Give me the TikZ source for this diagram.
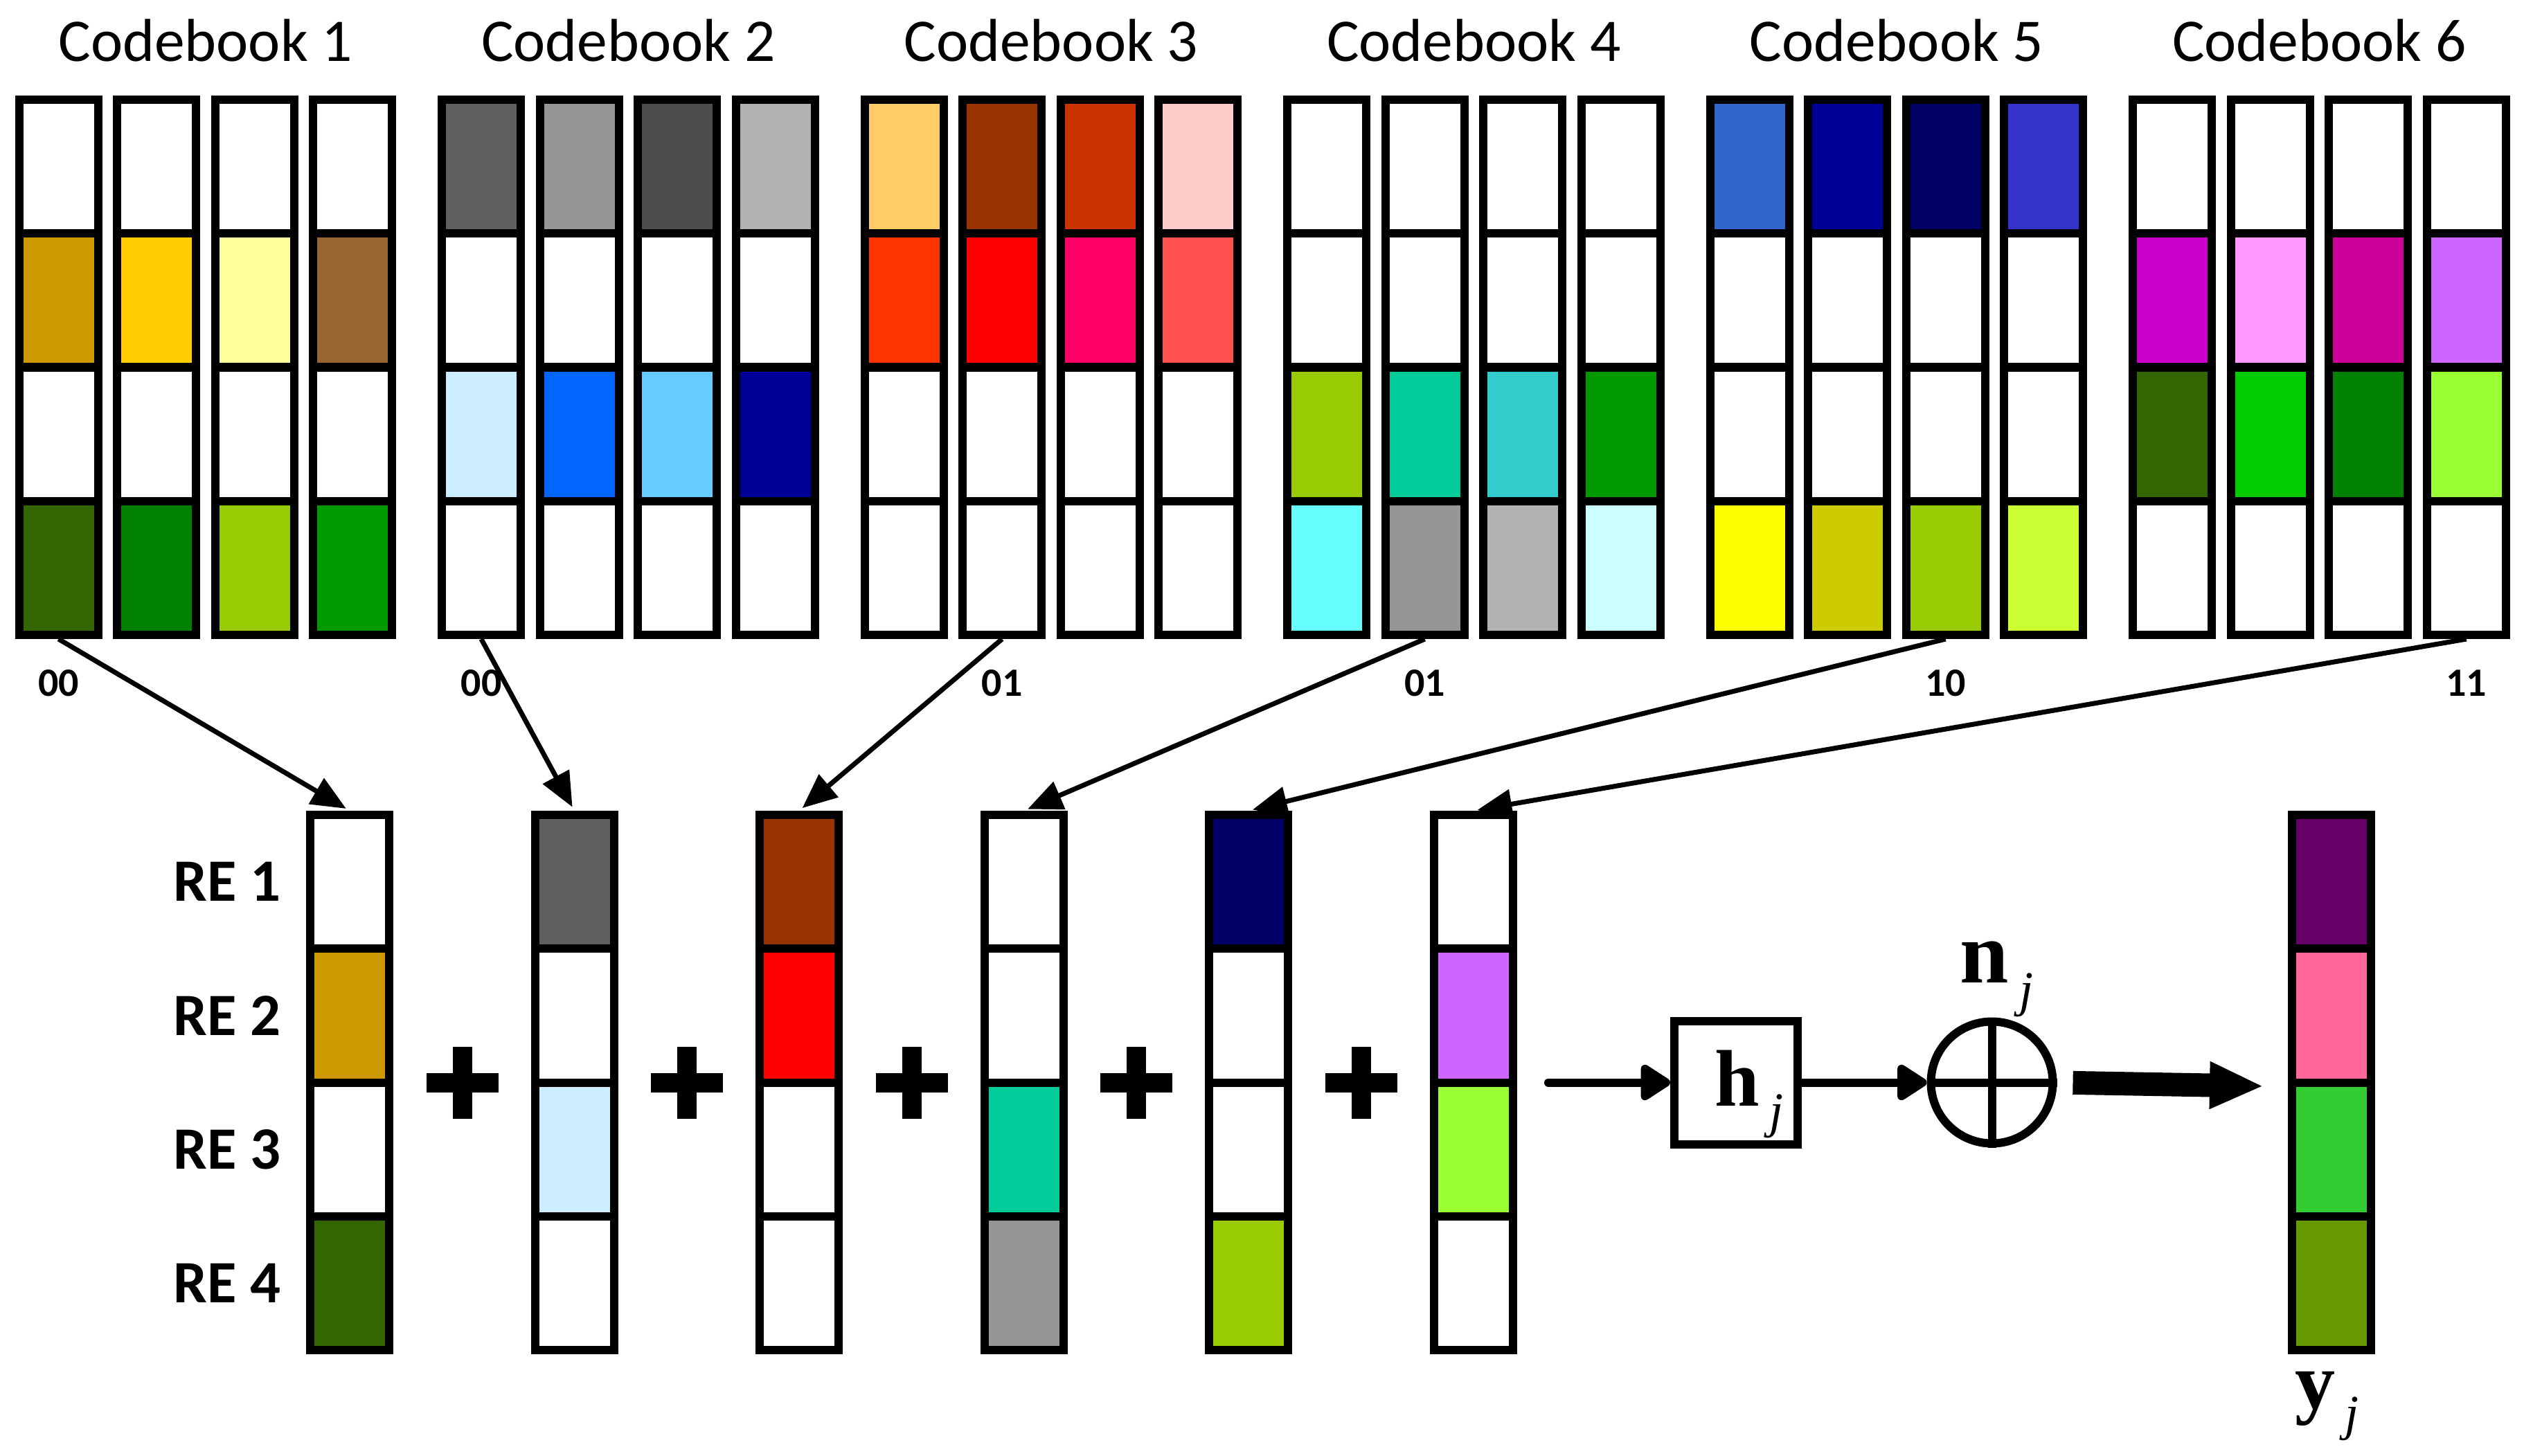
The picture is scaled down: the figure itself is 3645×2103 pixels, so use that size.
\documentclass[tikz,border=0pt]{standalone}
\usepackage{fontspec}
\setmainfont{Carlito}
\newfontfamily\timesfont{Liberation Serif}
\usetikzlibrary{arrows.meta,positioning,calc}

\newcommand{\vecsym}[2]{{\bfseries #1}\hspace{0.12em}\raisebox{-0.27em}{\fontsize{20.5pt}{22pt}\selectfont\itshape #2}}

% one column of four resource cells, #1 name, #2 x, #3 top y, #4 fills
\newcommand{\cellcolumn}[4]{%
  \foreach \fillc [count=\row] in {#4}{%
    \definecolor{cellfill}{HTML}{\fillc}%
    \node[cell, fill=cellfill] (#1-\row) at ({#2},{#3+(\row-0.5)*193.25}) {};
  }%
}
\newcommand{\codebook}[5]{%
  \pgfmathsetmacro{\bx}{84.5+610.5*(#1-1)}
  \cellcolumn{cb#1-1}{\bx}{144}{#2}
  \cellcolumn{cb#1-2}{\bx+141.6}{144}{#3}
  \cellcolumn{cb#1-3}{\bx+283.2}{144}{#4}
  \cellcolumn{cb#1-4}{\bx+424.8}{144}{#5}
  \node[cbtitle] (title#1) at ({\bx+212.4},89) {Codebook #1};
}

\tikzset{
  cell/.style={draw, line width=1.2mm, minimum width=11.4mm, minimum height=19.325mm, inner sep=0pt},
  cbtitle/.style={font=\fontsize{24.9pt}{30pt}\selectfont, anchor=base, inner sep=0pt},
  idx/.style={font=\bfseries\fontsize{16.5pt}{18pt}\selectfont, anchor=base, inner sep=0pt},
  relbl/.style={font=\bfseries\fontsize{24.7pt}{30pt}\selectfont, inner sep=0pt},
  sym/.style={font=\timesfont\fontsize{33pt}{36pt}\selectfont, inner sep=0pt},
  link/.style={line width=0.7mm, -{Triangle[length=5mm,width=4.2mm]}, shorten >=0.6mm},
  flow/.style={line width=1.2mm, line cap=round, -{Triangle[length=4.8mm,width=5.8mm,round]}},
  fat/.style={line width=3.4mm, -{Triangle[length=7.8mm,width=6.3mm]}}
}

\begin{document}
\begin{tikzpicture}[x=0.1mm, y=-0.1mm]
	\useasboundingbox (0,0) rectangle (3645,2103);

	\codebook{1}{FFFFFF,CC9900,FFFFFF,336600}{FFFFFF,FFCC00,FFFFFF,008000}{FFFFFF,FFFF99,FFFFFF,99CC00}{FFFFFF,996633,FFFFFF,009900}
	\codebook{2}{606060,FFFFFF,CCECFF,FFFFFF}{969696,FFFFFF,0066FF,FFFFFF}{4D4D4D,FFFFFF,66CCFF,FFFFFF}{B2B2B2,FFFFFF,000099,FFFFFF}
	\codebook{3}{FFCC66,FF3300,FFFFFF,FFFFFF}{993300,FF0000,FFFFFF,FFFFFF}{CC3300,FF0066,FFFFFF,FFFFFF}{FFCCCC,FF5050,FFFFFF,FFFFFF}
	\codebook{4}{FFFFFF,FFFFFF,99CC00,66FFFF}{FFFFFF,FFFFFF,00CC99,969696}{FFFFFF,FFFFFF,33CCCC,B2B2B2}{FFFFFF,FFFFFF,009900,CCFFFF}
	\codebook{5}{3366CC,FFFFFF,FFFFFF,FFFF00}{000099,FFFFFF,FFFFFF,CCCC00}{000066,FFFFFF,FFFFFF,99CC00}{3333CC,FFFFFF,FFFFFF,CCFF33}
	\codebook{6}{FFFFFF,CC00CC,336600,FFFFFF}{FFFFFF,FF99FF,00CC00,FFFFFF}{FFFFFF,CC0099,008000,FFFFFF}{FFFFFF,CC66FF,99FF33,FFFFFF}

	\cellcolumn{re1}{505}{1177}{FFFFFF,CC9900,FFFFFF,336600}
	\cellcolumn{re2}{829.5}{1177}{606060,FFFFFF,CCECFF,FFFFFF}
	\cellcolumn{re3}{1154}{1177}{993300,FF0000,FFFFFF,FFFFFF}
	\cellcolumn{re4}{1478.5}{1177}{FFFFFF,FFFFFF,00CC99,969696}
	\cellcolumn{re5}{1803}{1177}{000066,FFFFFF,FFFFFF,99CC00}
	\cellcolumn{re6}{2127.5}{1177}{FFFFFF,CC66FF,99FF33,FFFFFF}
	\cellcolumn{out}{3367}{1177}{660066,FF6699,33CC33,669900}

	\foreach \k/\c/\code in {1/1/00,2/1/00,3/2/01,4/2/01,5/3/10,6/4/11} {
		\node[idx] (code\k) at ($(cb\k-\c-4.south)+(0,82)$) {\code};
		\draw[link] (cb\k-\c-4.south) -- (re\k-1.north);
	}

	\foreach \row in {1,...,4}
		\node[relbl, left=3.6mm of re1-\row] (relbl\row) {RE \row};

	\foreach \i in {0,...,4} {
		\fill ({667.5+324.5*\i-52},1549.5) rectangle ++(104,28);
		\fill ({667.5+324.5*\i-14},1511.5) rectangle ++(28,104);
	}

	\node[sym, draw, line width=1.2mm, minimum size=17.8mm] (chan) at (2507,1563.5) {\raisebox{-3.35mm}[0pt][0pt]{\hspace{3.8mm}\vecsym{h}{j}}};
	\node[draw, circle, line width=1.2mm, minimum size=17.6mm, inner sep=0pt] (sum) at (2876.5,1563.5) {};
	\draw[line width=1.2mm] (sum.north) -- (sum.south) (sum.west) -- (sum.east);
	\coordinate (in) at (2236,1563.5);
	\draw[flow] (in) -- (chan);
	\draw[flow] (chan) -- (sum);
	\draw[fat, shorten <=2.3mm, shorten >=3.5mm] (sum.east) -- (out-2.south west);

	\node[sym, anchor=base west, font=\timesfont\fontsize{36pt}{40pt}\selectfont] (noise) at (2830,1419) {\vecsym{n}{j}};
	\node[sym, anchor=base west] (rx) at (3314,2034) {\vecsym{y}{j}};
\end{tikzpicture}
\end{document}
